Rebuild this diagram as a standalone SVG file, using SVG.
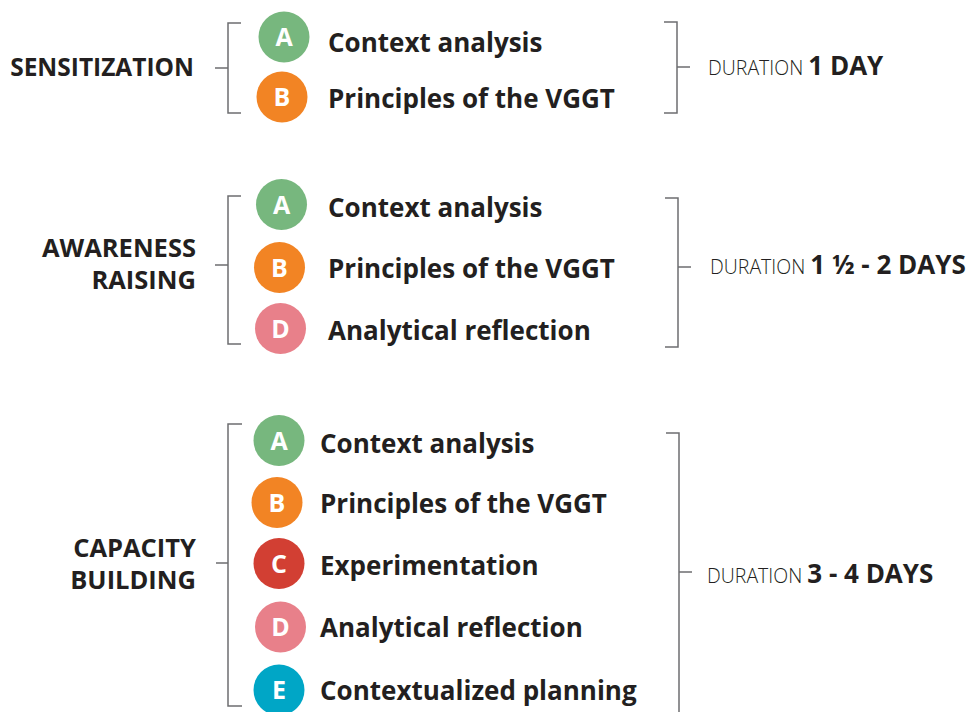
<svg xmlns="http://www.w3.org/2000/svg" width="976" height="712" viewBox="0 0 976 712">
<style>
.bg{fill:#ffffff}
.br{fill:none;stroke:#6d6e70;stroke-width:1.5}
.lab{font-family:"Open Sans","Liberation Sans",sans-serif;font-weight:700;font-size:25.5px;fill:#231f20}
.item{font-family:"Open Sans","Liberation Sans",sans-serif;font-weight:700;font-size:26px;fill:#231f20}
.let{font-family:"Open Sans","Liberation Sans",sans-serif;font-weight:700;font-size:25px;fill:#ffffff;text-anchor:middle}
.dur{font-family:"Open Sans","Liberation Sans",sans-serif;font-weight:300;font-size:19.5px;fill:#231f20}
.durb{font-weight:700;font-size:26px}
.cA{fill:#77b77e}.cB{fill:#f28424}.cC{fill:#d23f33}.cD{fill:#e8808a}.cE{fill:#00a6c6}
</style>
<rect class="bg" x="0" y="0" width="976" height="712"/>
<g id="connectors">
<path class="br" d="M215 68H228M241 23H228V113H241"/>
<path class="br" d="M664 22H677V113H664M677 67H690"/>
<path class="br" d="M215 265H228M241 196H228V344H241"/>
<path class="br" d="M665 198H678V347H665M678 267H691"/>
<path class="br" d="M216 563H228M242 424H228V706H242"/>
<path class="br" d="M666 433H679V712M679 572H692"/>
</g>
<g id="sensitization">
<text class="lab" x="194" y="76" text-anchor="end" style="font-size:24.5px">SENSITIZATION</text>
</g>
<g id="s1-A"><circle class="cA" cx="284" cy="37" r="25.5"/><text class="let" x="284" y="46">A</text><text class="item" x="328" y="52">Context analysis</text></g>
<g id="s1-B"><circle class="cB" cx="282" cy="97" r="25.5"/><text class="let" x="282" y="106">B</text><text class="item" x="328" y="108">Principles of the VGGT</text></g>
<g id="s1-duration"><text class="dur" x="708" y="75">DURATION <tspan class="durb">1 DAY</tspan></text></g>

<g id="awareness">
<text class="lab" x="196" y="257" text-anchor="end">AWARENESS</text>
<text class="lab" x="196" y="289" text-anchor="end">RAISING</text>
</g>
<g id="s2-A"><circle class="cA" cx="281.5" cy="204.5" r="25.5"/><text class="let" x="281.5" y="213.5">A</text><text class="item" x="328" y="217">Context analysis</text></g>
<g id="s2-B"><circle class="cB" cx="279.5" cy="267.5" r="25.5"/><text class="let" x="279.5" y="276.5">B</text><text class="item" x="328" y="278">Principles of the VGGT</text></g>
<g id="s2-D"><circle class="cD" cx="280.5" cy="328.5" r="25.5"/><text class="let" x="280.5" y="337.5">D</text><text class="item" x="328" y="340">Analytical reflection</text></g>
<g id="s2-duration"><text class="dur" x="710" y="274">DURATION <tspan class="durb">1 ½ - 2 DAYS</tspan></text></g>

<g id="capacity">
<text class="lab" x="196" y="557" text-anchor="end">CAPACITY</text>
<text class="lab" x="196" y="589" text-anchor="end">BUILDING</text>
</g>
<g id="s3-A"><circle class="cA" cx="279" cy="440.5" r="25.5"/><text class="let" x="279" y="449.5">A</text><text class="item" x="320" y="453">Context analysis</text></g>
<g id="s3-B"><circle class="cB" cx="277" cy="502.5" r="25.5"/><text class="let" x="277" y="511.5">B</text><text class="item" x="320" y="513">Principles of the VGGT</text></g>
<g id="s3-C"><circle class="cC" cx="279" cy="563.5" r="25.5"/><text class="let" x="279" y="572.5">C</text><text class="item" x="320" y="575">Experimentation</text></g>
<g id="s3-D"><circle class="cD" cx="280.5" cy="627" r="25.5"/><text class="let" x="280.5" y="636">D</text><text class="item" x="320" y="637">Analytical reflection</text></g>
<g id="s3-E"><circle class="cE" cx="279" cy="690" r="25.5"/><text class="let" x="279" y="699">E</text><text class="item" x="320" y="700">Contextualized planning</text></g>
<g id="s3-duration"><text class="dur" x="707" y="583">DURATION <tspan class="durb">3 - 4 DAYS</tspan></text></g>
</svg>
